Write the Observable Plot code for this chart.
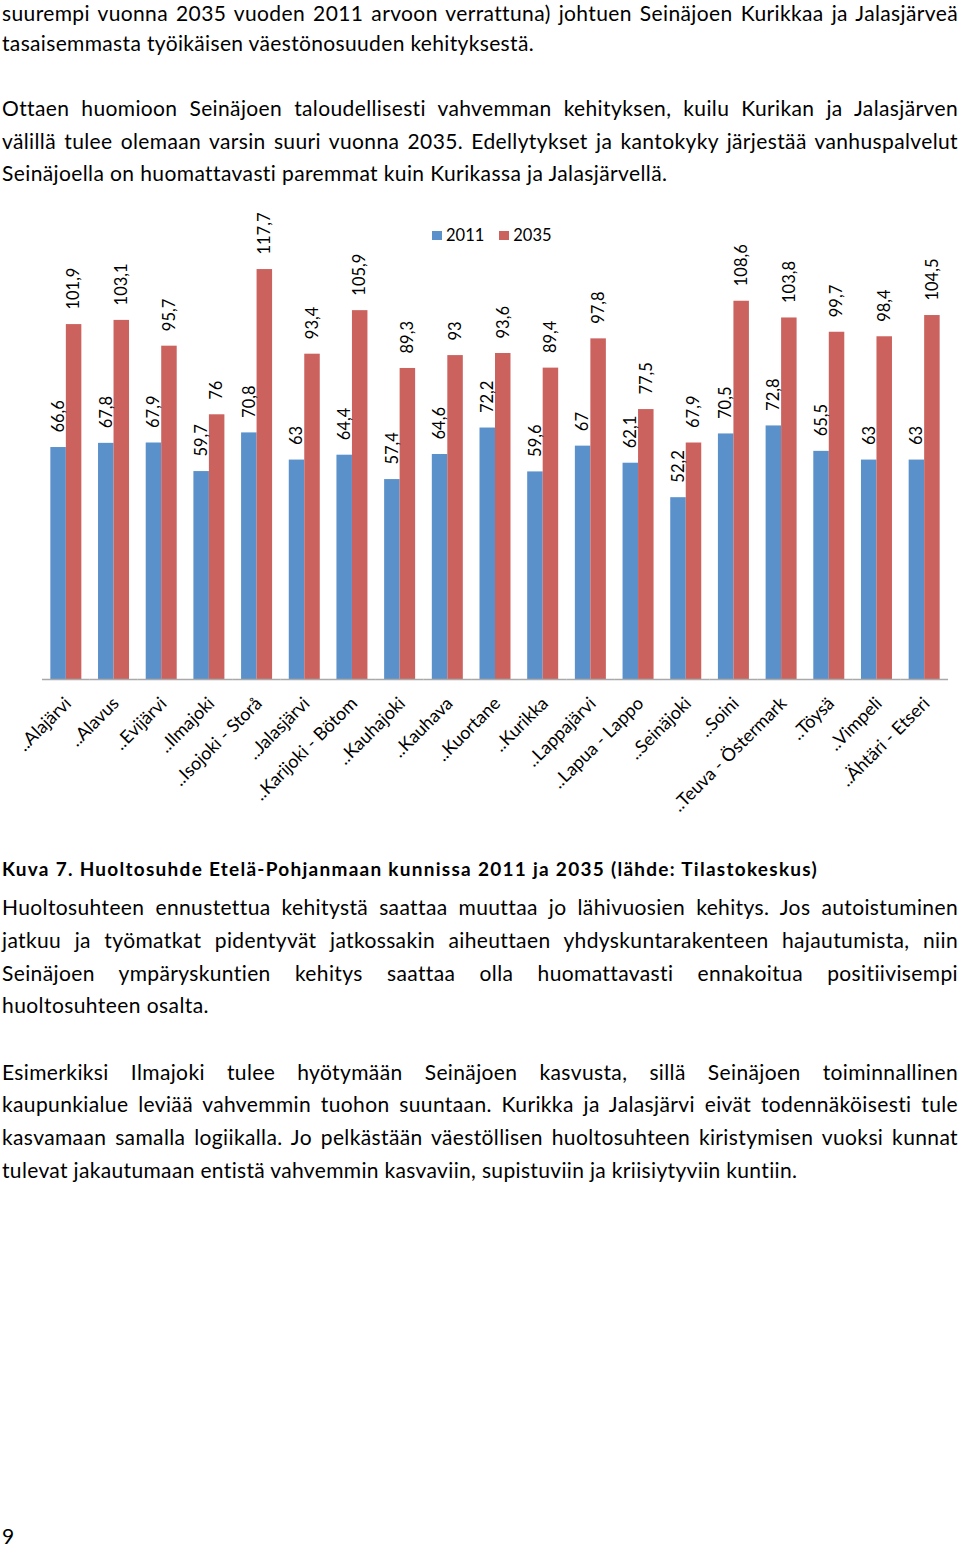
<!DOCTYPE html>
<html><head><meta charset="utf-8">
<script src="https://cdn.jsdelivr.net/npm/d3@7"></script>
<script src="https://cdn.jsdelivr.net/npm/@observablehq/plot@0.6"></script>
<style>
html,body{margin:0;padding:0;background:#fff;}
#page{position:relative;width:960px;height:1546px;overflow:hidden;font-family:Lato,"Open Sans",sans-serif;color:#000;}
.line{position:absolute;left:2px;top:0;white-space:nowrap;font-size:21px;line-height:0.75;}
.line .txt{display:inline-block;white-space:nowrap;}
.line .mk{display:inline-block;width:0;height:0;vertical-align:baseline;}
#chart{position:absolute;left:0;top:200px;}
#legend{position:absolute;left:432px;top:227px;font-size:16.5px;display:flex;align-items:center;line-height:1;}
#legend .sw{display:inline-block;width:10px;height:9px;margin-right:4px;}
#legend .it{display:flex;align-items:center;margin-right:15px;}
</style></head><body><div id="page"><div id="chart"></div><div id="legend"></div></div>
<script>
const categories = ["..Alajärvi","..Alavus","..Evijärvi","..Ilmajoki","..Isojoki - Storå","..Jalasjärvi","..Karijoki - Bötom","..Kauhajoki","..Kauhava","..Kuortane","..Kurikka","..Lappajärvi","..Lapua - Lappo","..Seinäjoki","..Soini","..Teuva - Östermark","..Töysä","..Vimpeli","..Ähtäri - Etseri"];
const series = ["2011","2035"];
const values2011 = [66.6,67.8,67.9,59.7,70.8,63,64.4,57.4,64.6,72.2,59.6,67,62.1,52.2,70.5,72.8,65.5,63,63];
const values2035 = [101.9,103.1,95.7,76,117.7,93.4,105.9,89.3,93,93.6,89.4,97.8,77.5,67.9,108.6,103.8,99.7,98.4,104.5];
const colors = ["#5a91cb","#cc625e"];

const textLines = [
  ["suurempi vuonna 2035 vuoden 2011 arvoon verrattuna) johtuen Seinäjoen Kurikkaa ja Jalasjärveä", 21, "j"],
  ["tasaisemmasta työikäisen väestönosuuden kehityksestä.", 50.5, 534],
  ["Ottaen huomioon Seinäjoen taloudellisesti vahvemman kehityksen, kuilu Kurikan ja Jalasjärven", 115.8, "j"],
  ["välillä tulee olemaan varsin suuri vuonna 2035. Edellytykset ja kantokyky järjestää vanhuspalvelut", 148.5, "j"],
  ["Seinäjoella on huomattavasti paremmat kuin Kurikassa ja Jalasjärvellä.", 181.3, 667],
  ["Kuva 7. Huoltosuhde Etelä-Pohjanmaan kunnissa 2011 ja 2035 (lähde: Tilastokeskus)", 876, 818, "b"],
  ["Huoltosuhteen ennustettua kehitystä saattaa muuttaa jo lähivuosien kehitys. Jos autoistuminen", 915, "j"],
  ["jatkuu ja työmatkat pidentyvät jatkossakin aiheuttaen yhdyskuntarakenteen hajautumista, niin", 947.8, "j"],
  ["Seinäjoen ympäryskuntien kehitys saattaa olla huomattavasti ennakoitua positiivisempi", 980.6, "j"],
  ["huoltosuhteen osalta.", 1013.4, 209],
  ["Esimerkiksi Ilmajoki tulee hyötymään Seinäjoen kasvusta, sillä Seinäjoen toiminnallinen", 1079.5, "j"],
  ["kaupunkialue leviää vahvemmin tuohon suuntaan. Kurikka ja Jalasjärvi eivät todennäköisesti tule", 1112.3, "j"],
  ["kasvamaan samalla logiikalla. Jo pelkästään väestöllisen huoltosuhteen kiristymisen vuoksi kunnat", 1145.1, "j"],
  ["tulevat jakautumaan entistä vahvemmin kasvaviin, supistuviin ja kriisiytyviin kuntiin.", 1177.9, 798],
  ["9", 1543.5, 13]
];

const fmt = v => String(v).replace(".", ",");
const rows = categories.flatMap((c, i) => [
  {category: c, series: series[0], value: values2011[i]},
  {category: c, series: series[1], value: values2035[i]}
]);

const page = document.getElementById("page");

// text lines
const made = textLines.map(([t, base, mode, w]) => {
  const div = document.createElement("div");
  div.className = "line";
  if (w === "b") { div.style.fontWeight = "700"; div.style.fontSize = "19px"; }
  const s = document.createElement("span"); s.className = "txt"; s.textContent = t;
  const m = document.createElement("span"); m.className = "mk";
  div.appendChild(s); div.appendChild(m);
  page.appendChild(div);
  return {div, s, m, t, base, mode, bold: w === "b"};
});
let ls = [];
for (const o of made) {
  if (o.mode !== "j") {
    const w0 = o.s.getBoundingClientRect().width;
    const L = (o.mode - 2 - w0) / o.t.length;
    o.s.style.letterSpacing = L + "px";
    if (!o.bold && o.t.length > 5) ls.push(L);
  }
}
const Lavg = ls.length ? d3.mean(ls) : 0;
for (const o of made) {
  if (o.mode === "j") {
    o.s.style.letterSpacing = Lavg + "px";
    const w1 = o.s.getBoundingClientRect().width;
    const n = (o.t.match(/ /g) || []).length;
    o.s.style.wordSpacing = ((956 - w1) / n) + "px";
  }
  const b = o.m.offsetTop;
  o.div.style.top = (o.base - b) + "px";
}

// legend
const lg = document.getElementById("legend");
series.forEach((s, i) => {
  const it = document.createElement("span"); it.className = "it";
  const sw = document.createElement("span"); sw.className = "sw"; sw.style.background = colors[i];
  const tx = document.createElement("span"); tx.textContent = s;
  it.appendChild(sw); it.appendChild(tx); lg.appendChild(it);
});

// chart
const pxPerUnit = 3.483, baseY = 479, yMax = 130;
function makeChart(superFacet) {
  const rule = superFacet
    ? Plot.ruleY([0], {facet: "super", stroke: "#a9a9a9", strokeWidth: 1.6})
    : Plot.ruleY([0], {stroke: "#a9a9a9", strokeWidth: 1.6, insetLeft: -8.4, insetRight: -8.4});
  return Plot.plot({
    width: 960, height: 640,
    marginLeft: 42, marginRight: 12,
    marginTop: baseY - yMax * pxPerUnit, marginBottom: 640 - baseY,
    fx: {domain: categories, paddingInner: 0.35, paddingOuter: 0.175, round: false, label: null},
    x: {domain: series, padding: 0, round: false, axis: null},
    y: {domain: [0, yMax], axis: null},
    color: {domain: series, range: colors},
    style: {fontFamily: "Lato, 'Open Sans', sans-serif", fontSize: "16px", background: "transparent", color: "#000"},
    marks: [
      Plot.barY(rows, {fx: "category", x: "series", y: "value", fill: "series"}),
      Plot.text(rows, {fx: "category", x: "series", y: "value", text: d => fmt(d.value), rotate: -90, textAnchor: "start", dy: -15, fontSize: 16.5, fill: "#000"}),
      rule,
      Plot.axisFx({anchor: "bottom", tickRotate: -45, tickSize: 0, tickPadding: 21, dx: 2, fontSize: 18, label: null, fill: "#000"})
    ]
  });
}
let chart;
try { chart = makeChart(true); } catch (e) { chart = makeChart(false); }
document.getElementById("chart").appendChild(chart);
</script>
</body></html>
